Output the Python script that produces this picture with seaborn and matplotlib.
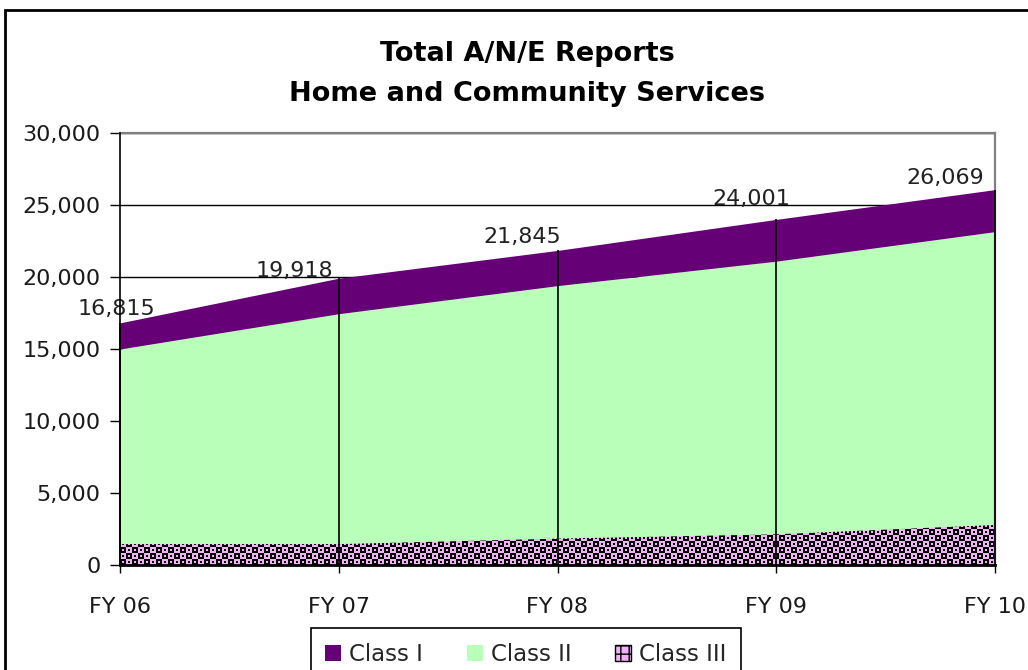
import matplotlib
matplotlib.use("Agg")
import matplotlib.pyplot as plt
from matplotlib.patches import Patch, Rectangle
import numpy as np
import pandas as pd
import seaborn as sns

# data
years = ['FY 06', 'FY 07', 'FY 08', 'FY 09', 'FY 10']
class_1 = [1815, 2468, 2445, 2901, 2919]
class_2 = [13550, 16000, 17570, 18970, 20370]
class_3 = [1450, 1450, 1830, 2130, 2780]
totals = [16815, 19918, 21845, 24001, 26069]
y_ticks = [0, 5000, 10000, 15000, 20000, 25000, 30000]
series_names = ['Class I', 'Class II', 'Class III']

purple = '#660077'
green = '#b9ffb9'
pink = '#f0b2f5'

sns.set_theme(style='white')
plt.rcParams['font.family'] = ['DejaVu Sans']

df = pd.DataFrame({'year': years, 'Class I': class_1, 'Class II': class_2,
                   'Class III': class_3, 'total': totals})
x = np.arange(len(df))

fig = plt.figure(figsize=(10.28, 6.70), dpi=100)
ax = fig.add_axes([120 / 1028, 1 - 565 / 670, 875 / 1028, 432 / 670])

polys = ax.stackplot(x, df['Class III'], df['Class II'], df['Class I'],
                     colors=[pink, green, purple], zorder=1, lw=0)

# checkered texture for class III (pixel sized tile, clipped to the area)
pink_rgb = matplotlib.colors.to_rgb(pink)
tile = np.ones((12, 12, 3)) * np.array(pink_rgb)
tile[0:6, 6:12] = 0
tile[6:12, 0:6] = 0
tile[2:4, 8:10] = pink_rgb
tile[8:10, 2:4] = pink_rgb
tile[2:4, 2:4] = 0
tile[8:10, 8:10] = 0
rows, cols = 48, 876
img = np.tile(tile, (rows // 12 + 1, cols // 12 + 1, 1))[:rows, :cols]
tex = ax.imshow(img, extent=(0, 4, 0, rows / 432 * 30000), origin='upper',
                aspect='auto', interpolation='nearest', zorder=1.5)
tex.set_clip_path(polys[0].get_paths()[0], ax.transData)

# drop lines
ax.vlines(x, 0, df['total'], color='black', lw=1.2, zorder=3, clip_on=False)

# total labels
dx = [-4, -44, -35, -25, -50]
dy = [14, 7, 13, 20, 12]
for i, t in enumerate(df['total']):
    ax.annotate(f'{t:,}', (x[i], t), xytext=(dx[i], dy[i]), textcoords='offset pixels',
                ha='center', va='center', fontsize=16, color='#222222', zorder=4)

ax.set_xlim(0, 4)
ax.set_ylim(0, 30000)
ax.set_xticks(x)
ax.set_xticklabels(df['year'])
ax.set_yticks(y_ticks)
ax.set_yticklabels([f'{v:,}' for v in y_ticks])
ax.set_axisbelow(True)
ax.yaxis.grid(True, color='black', lw=1)
ax.xaxis.grid(False)
for side in ['top', 'right']:
    ax.spines[side].set_visible(True)
    ax.spines[side].set_color('#808080')
    ax.spines[side].set_linewidth(1.6)
ax.spines['left'].set_color('black')
ax.spines['left'].set_linewidth(1.2)
ax.spines['left'].set_zorder(5)
ax.spines['bottom'].set_color('black')
ax.spines['bottom'].set_linewidth(2)
ax.spines['bottom'].set_zorder(5)
ax.tick_params(axis='y', direction='out', length=7, width=1, color='black',
               pad=7, labelsize=16, labelcolor='#1a1a1a', left=True)
ax.tick_params(axis='x', direction='out', length=6, width=1, color='black',
               pad=17, labelsize=16, labelcolor='#1a1a1a', bottom=True)
ax.set_facecolor('white')

fig.text(527 / 1028, 1 - 74 / 670, 'Total A/N/E Reports\nHome and Community Services',
         ha='center', va='center', fontsize=19.5, fontweight='bold', color='black',
         linespacing=1.7)

handles = [Patch(facecolor=purple, edgecolor='none'),
           Patch(facecolor=green, edgecolor='none'),
           Patch(facecolor=pink, edgecolor='black', hatch='++', lw=1)]
leg = fig.legend(handles, series_names, loc='upper center',
                 bbox_to_anchor=(526 / 1028, 1 - 628 / 670), ncol=3, fontsize=16.5,
                 frameon=True, fancybox=False, edgecolor='black', framealpha=1,
                 handlelength=0.7, handleheight=0.7, handletextpad=0.35,
                 columnspacing=1.9, borderpad=0.65, borderaxespad=0)
leg.get_frame().set_linewidth(1.2)

# outer chart border (runs off the right and bottom edges)
fig.add_artist(Rectangle((5 / 1028, -0.1), 1.2, 1.1 - 10 / 670, transform=fig.transFigure,
                         fill=False, lw=2, edgecolor='black'))

fig.savefig('out.png', dpi=100)
